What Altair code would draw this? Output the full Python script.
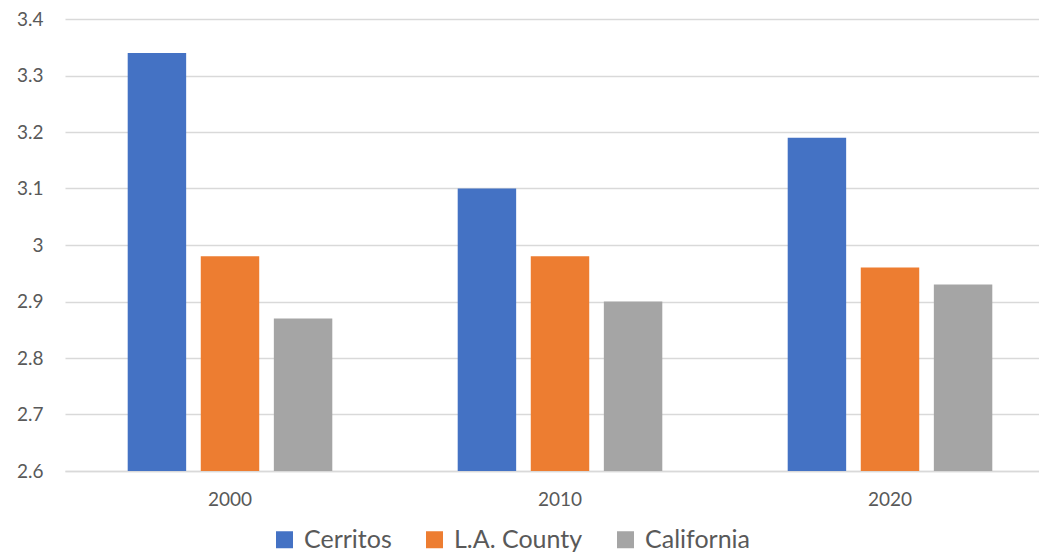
import altair as alt
import pandas as pd

years = ["2000", "2010", "2020"]
series = ["Cerritos", "L.A. County", "California"]
cerritos = [3.34, 3.10, 3.19]
la_county = [2.98, 2.98, 2.96]
california = [2.87, 2.90, 2.93]
colors = ["#4472C4", "#ED7D31", "#A5A5A5"]

rows = []
for i, y in enumerate(years):
    for s, vals in zip(series, [cerritos, la_county, california]):
        rows.append({"year": y, "series": s, "value": vals[i]})
df = pd.DataFrame(rows)

FONT = "Lato"
TXT = "#595959"

chart = alt.Chart(df).mark_bar(clip=True).encode(
    x=alt.X("year:N", sort=years, title=None,
            scale=alt.Scale(range=[0, 990], paddingInner=0.38, paddingOuter=0.19),
            axis=alt.Axis(labelAngle=0, labelFont=FONT, labelFontSize=19, labelColor=TXT,
                          ticks=False, domainColor="#D9D9D9", domainWidth=1.5, labelPadding=19)),
    xOffset=alt.XOffset("series:N", sort=series,
                        scale=alt.Scale(paddingInner=0.2, paddingOuter=0)),
    y=alt.Y("value:Q", title=None,
            scale=alt.Scale(domain=[2.6, 3.4], nice=False, zero=False),
            axis=alt.Axis(values=[2.6, 2.7, 2.8, 2.9, 3.0, 3.1, 3.2, 3.3, 3.4], format=".2~f",
                          labelFont=FONT, labelFontSize=19, labelColor=TXT, ticks=False,
                          domain=False, gridColor="#D9D9D9", gridWidth=1.5, labelPadding=22)),
    color=alt.Color("series:N", sort=series,
                    scale=alt.Scale(domain=series, range=colors),
                    legend=alt.Legend(title=None, orient="none", direction="horizontal",
                                      legendX=207, legendY=508,
                                      symbolType="square", symbolSize=289, symbolStrokeWidth=0,
                                      symbolOpacity=1,
                                      labelFont=FONT, labelFontSize=25, labelColor=TXT,
                                      columnPadding=30, labelOffset=7)),
).properties(
    width=974, height=452,
    autosize=alt.AutoSizeParams(type="none"),
    padding={"left": 57, "top": 11, "right": 0, "bottom": 95},
).configure_view(stroke=None)

chart.save("out.html", embed_options={"renderer": "svg", "actions": False})
